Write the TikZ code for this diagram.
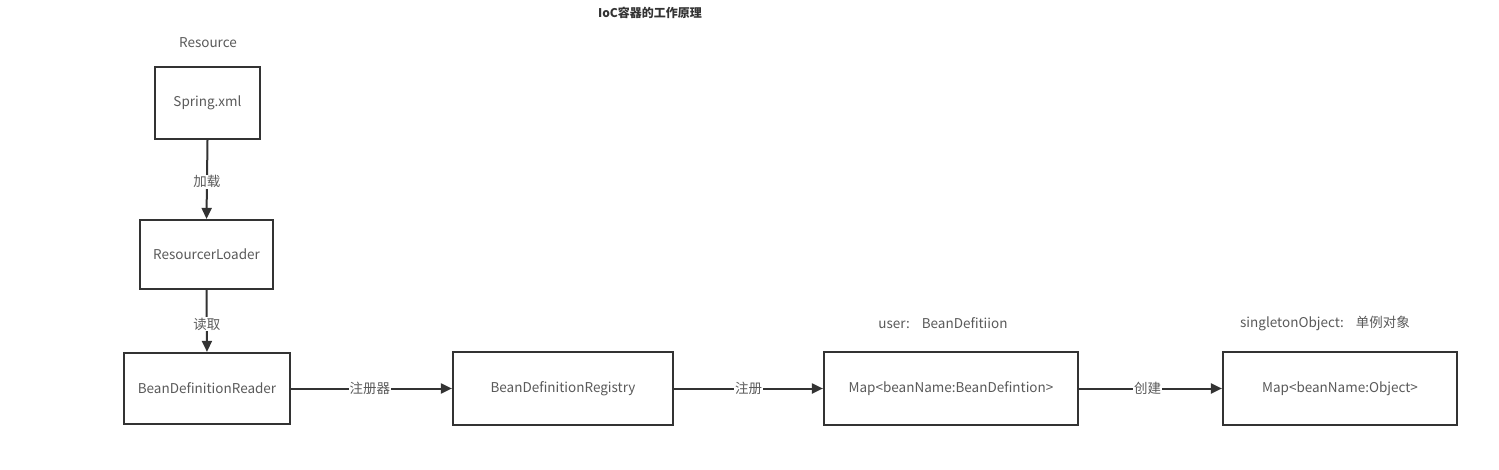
\documentclass[tikz,border=0pt]{standalone}
\usepackage{fontspec}
\setmainfont{Noto Sans CJK SC}
\usetikzlibrary{arrows.meta}
\definecolor{txt}{HTML}{5A5A5A}
\definecolor{ln}{HTML}{333333}
\tikzset{
  box/.style={draw=ln, line width=2.2pt, fill=white, text=txt, font=\fontsize{13.5}{15}\selectfont, inner sep=0pt},
  lbl/.style={text=txt, font=\fontsize{13.5}{15}\selectfont, inner sep=1pt},
  elbl/.style={text=txt, font=\fontsize{13.5}{15}\selectfont, fill=white, inner sep=1pt},
  conn/.style={draw=ln, line width=2pt, -{Triangle[length=11pt,width=10pt]}},
}
\begin{document}
\begin{tikzpicture}[x=1pt,y=-1pt]
\useasboundingbox[fill=white] (0,0) rectangle (1499,470);
\node[font=\bfseries\fontsize{12}{14}\selectfont, text=ln] (title) at (650,13) {IoC容器的工作原理};
\node[lbl] (res) at (208,43) {Resource};
\node[box, minimum width=105pt, minimum height=72pt] (spring) at (207.5,103) {Spring.xml};
\node[box, minimum width=133pt, minimum height=69pt] (loader) at (206.5,254.5) {ResourcerLoader};
\node[box, minimum width=166pt, minimum height=71pt] (reader) at (207,388.5) {BeanDefinitionReader};
\node[box, minimum width=220pt, minimum height=73pt] (registry) at (563,388.5) {BeanDefinitionRegistry};
\node[box, minimum width=254pt, minimum height=73pt] (map1) at (951,388.5) {Map<beanName:BeanDefintion>};
\node[box, minimum width=234pt, minimum height=73pt] (map2) at (1340,388.5) {Map<beanName:Object>};
\node[lbl] (user) at (943,323) {user:\hspace{12pt}BeanDefitiion};
\node[lbl] (single) at (1325,323) {singletonObject:\hspace{12pt}单例对象};
\draw[conn] (spring.south) -- node[elbl, pos=0.53] (l1) {加载} (loader.north);
\draw[conn] (loader.south) -- node[elbl, pos=0.55] (l2) {读取} (reader.north);
\draw[conn] (reader.east) -- node[elbl, pos=0.49] (l3) {注册器} (registry.west);
\draw[conn] (registry.east) -- node[elbl, pos=0.5] (l4) {注册} (map1.west);
\draw[conn] (map1.east) -- node[elbl, pos=0.48] (l5) {创建} (map2.west);
\end{tikzpicture}
\end{document}
